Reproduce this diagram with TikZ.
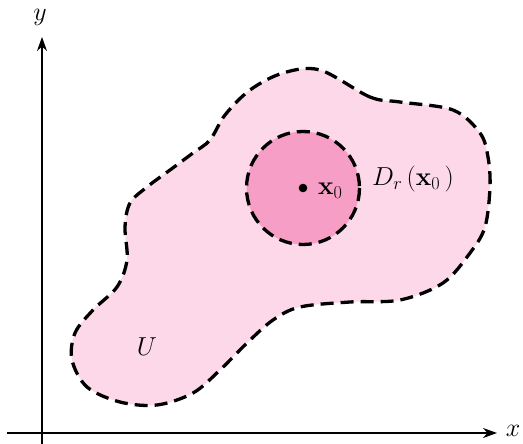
\documentclass[tikz,border=0pt]{standalone}
\usepackage{fix-cm}
\usetikzlibrary{arrows.meta}
\definecolor{outerpink}{RGB}{253,216,233}
\definecolor{innerpink}{RGB}{246,158,197}
\tikzset{
  axis/.style={line width=1.8pt, -{Stealth[length=14pt,width=10pt]}},
  boundary/.style={line width=3.3pt, dash pattern=on 13pt off 7pt, line join=round},
  lbl/.style={font=\fontsize{26}{30}\selectfont, inner sep=0pt}
}
\begin{document}
\begin{tikzpicture}[x=1pt,y=-1pt]
\useasboundingbox (0,0) rectangle (523,444);
% region U
\filldraw[boundary, fill=outerpink] plot[smooth cycle, tension=0.55] coordinates {
 (320,70) (370,97) (400,102) (453,110) (480,133) (488,157) (490,187) (485,227)
 (470,253) (443,283) (400,300) (350,302) (300,307) (273,320) (247,343) (220,370)
 (193,393) (157,405) (120,402) (87,387) (72,360) (75,333) (93,310) (117,287)
 (127,260) (125,227) (130,203) (147,187) (170,170) (193,153) (210,140) (225,115)
 (250,90) (283,73)};
% disk
\filldraw[boundary, fill=innerpink] (303,188) circle (56.5);
\fill (303,188) circle (4.3);
\node[lbl, anchor=west] (x0) at (318,191) {$\mathbf{x}_0$};
\node[lbl, anchor=west] (D) at (372,179) {$D_r\,(\mathbf{x}_0\,)$};
\node[lbl] (U) at (147,347) {$U$};
% axes
\coordinate (yb) at (42,444);
\coordinate (yt) at (42,37);
\coordinate (xl) at (7,433);
\coordinate (xr) at (497,433);
\draw[axis] (yb) -- (yt);
\draw[axis] (xl) -- (xr);
\node[lbl] (ylab) at (40,17) {$y$};
\node[lbl] (xlab) at (513,431) {$x$};
\end{tikzpicture}
\end{document}
